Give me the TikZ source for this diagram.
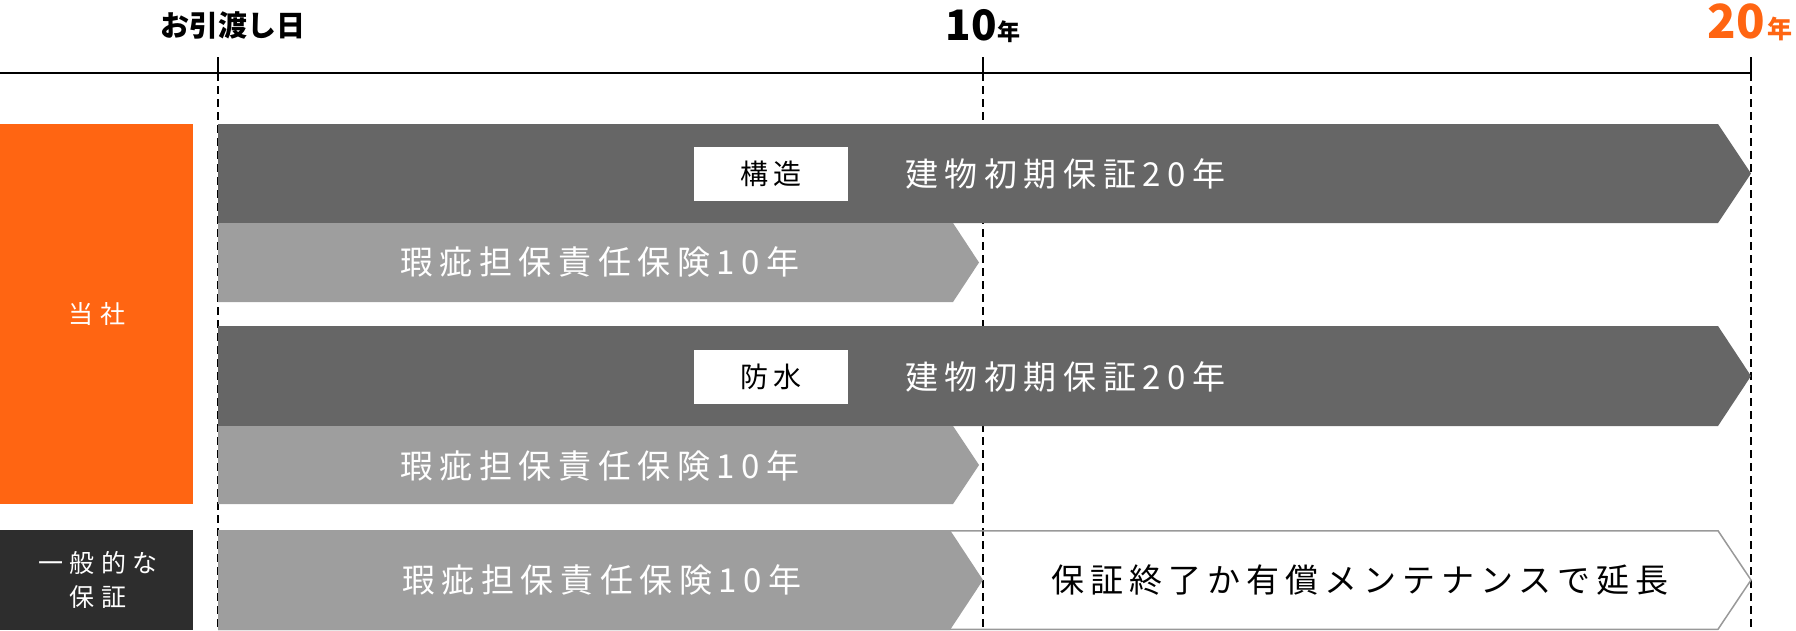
\documentclass[tikz,border=0pt]{standalone}
\usepackage{fontspec}
\newfontfamily\jp{Noto Sans CJK JP}
\newfontfamily\jpsp[LetterSpace=20]{Noto Sans CJK JP}
\newfontfamily\jpsb[LetterSpace=18]{Noto Sans CJK JP}
\newfontfamily\jpside[LetterSpace=26]{Noto Sans CJK JP}
\definecolor{orangec}{HTML}{FF6512}
\definecolor{boxdark}{HTML}{2D2D2D}
\definecolor{arrdark}{HTML}{666666}
\definecolor{arrlight}{HTML}{9E9E9E}
\definecolor{outl}{HTML}{999999}
\tikzset{
  axisline/.style={line width=2pt, black},
  tickline/.style={line width=1.5pt, black},
  guide/.style={line width=1.5pt, black, dash pattern=on 8pt off 5pt},
  hdr/.style={font=\jp\bfseries\fontsize{29}{34}\selectfont, inner sep=0},
  rowtxt/.style={font=\jpsp\fontsize{33}{38}\selectfont, text=white, inner sep=0},
  tagbox/.style={fill=white, text=black, font=\jpsp\fontsize{28}{34}\selectfont, minimum width=154pt, minimum height=54pt, inner sep=0},
  sidetxt/.style={font=\jpside\fontsize{25}{34}\selectfont, text=white, align=center, inner sep=0},
}
\begin{document}
\begin{tikzpicture}[x=1pt,y=-1pt]
\useasboundingbox (0,0) rectangle (1796,630);
% coordinates
\coordinate (t0) at (218,73);
\coordinate (t10) at (983,73);
\coordinate (t20) at (1751,73);
\coordinate (l0) at (0,73);
% guides (behind)
\draw[guide] (t0) -- (218,630);
\draw[guide] (t10) -- (983,630);
\draw[guide] (t20) -- (1751,630);
% axis
\draw[axisline] (l0) -- (t20);
\draw[tickline] (t0) -- ++(0,-16);
\draw[tickline] (t10) -- ++(0,-16);
\draw[tickline] (t20) -- ++(0,-16);
% header labels
\node[hdr] (hand) at (233,25) {お引渡し日};
\node[hdr, anchor=base] (ten) at (983,40) {\fontsize{42}{42}\selectfont 10\fontsize{23}{23}\selectfont 年};
\node[hdr, anchor=base, text=orangec] (twenty) at (1750,38) {\fontsize{47}{47}\selectfont 20\hspace{3pt}\fontsize{25}{25}\selectfont 年};
% side boxes
\fill[orangec] (0,124) rectangle (193,504);
\node[sidetxt] (tosha) at (97,314.5) {当社};
\fill[boxdark] (0,530) rectangle (193,630);
\node[sidetxt] (ippan) at (98,580) {一般的な\\保証};
% row 1
\fill[arrdark] (218,124) -- (1718,124) -- (1751,173.5) -- (1718,223) -- (218,223) -- cycle;
\node[tagbox] (kozo) at (771,174) {構造};
\node[rowtxt, anchor=west] (r1) at (905,174) {建物初期保証20年};
% row 2
\fill[arrlight] (218,223) -- (953,223) -- (979,262.5) -- (953,302) -- (218,302) -- cycle;
\node[rowtxt] (r2) at (600,262) {瑕疵担保責任保険10年};
% row 3
\fill[arrdark] (218,326) -- (1718,326) -- (1751,376) -- (1718,426) -- (218,426) -- cycle;
\node[tagbox] (bosui) at (771,377) {防水};
\node[rowtxt, anchor=west] (r3) at (905,377) {建物初期保証20年};
% row 4
\fill[arrlight] (218,426) -- (953,426) -- (979,465) -- (953,504) -- (218,504) -- cycle;
\node[rowtxt] (r4) at (600,466) {瑕疵担保責任保険10年};
% row 5
\draw[outl, line width=1.5pt] (218,530.75) -- (1718,530.75) -- (1751,580) -- (1718,629.25) -- (218,629.25);
\fill[arrlight] (218,530) -- (950,530) -- (983,580) -- (950,630) -- (218,630) -- cycle;
\node[rowtxt] (r5) at (602,580) {瑕疵担保責任保険10年};
\node[rowtxt, font=\jpsb\fontsize{33}{38}\selectfont, text=black] (r5b) at (1360,580) {保証終了か有償メンテナンスで延長};
\end{tikzpicture}
\end{document}
